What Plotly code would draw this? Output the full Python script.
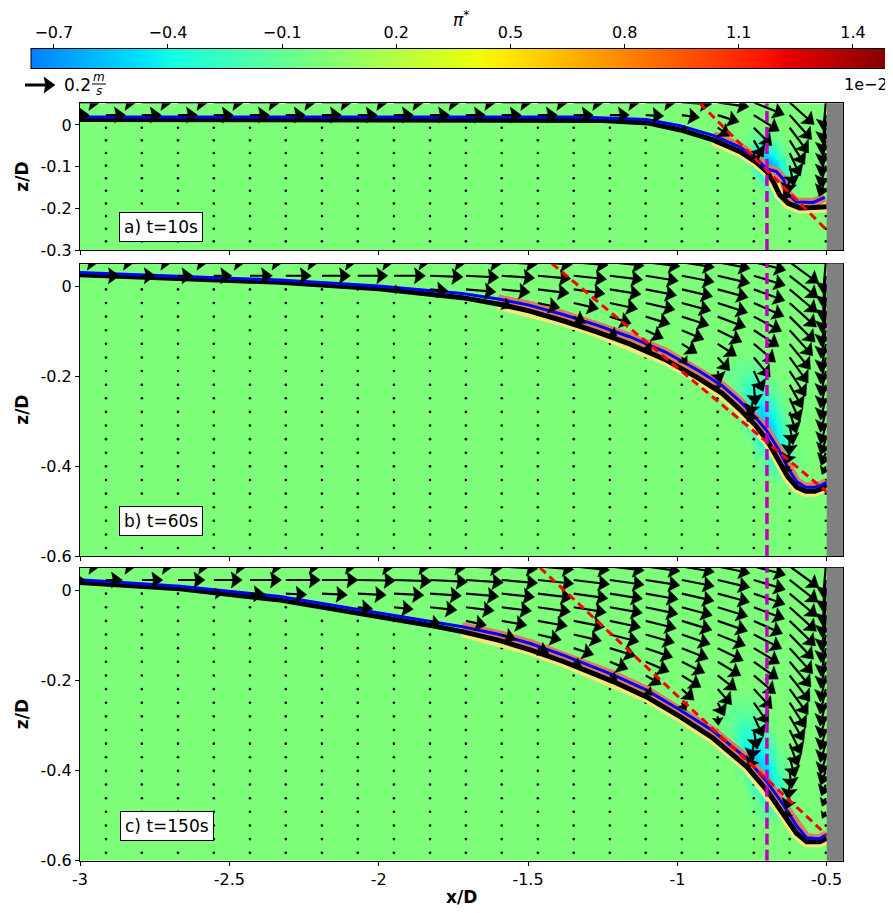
import math
import plotly.graph_objects as go

# ------------------------------------------------------------------ data
X_COLS = [-3.034, -2.913, -2.793, -2.672, -2.552, -2.431, -2.311, -2.190, -2.070, -1.949,
          -1.828, -1.708, -1.588, -1.467, -1.347, -1.226, -1.106, -0.985, -0.865, -0.744,
          -0.624, -0.503]
Z_ROWS = [0.054, 0.0237, -0.0066, -0.0369, -0.0672, -0.0975, -0.1278, -0.1581, -0.1884,
          -0.2187, -0.2490, -0.2793, -0.3096, -0.3399, -0.3702, -0.4005, -0.4308, -0.4611,
          -0.4914, -0.5217, -0.5520, -0.5823]

# velocity per column (m/s) and direction (deg), from the top row down to the bed
SPD_A = [
    [0.20, 0.13], [0.20, 0.13], [0.20, 0.13], [0.20, 0.13], [0.20, 0.13], [0.20, 0.13],
    [0.20, 0.13], [0.20, 0.13], [0.20, 0.13], [0.20, 0.13], [0.20, 0.13], [0.20, 0.13],
    [0.20, 0.13], [0.20, 0.13], [0.20, 0.13], [0.20, 0.13],
    [0.20, 0.12],
    [0.20, 0.12, 0.04],
    [0.21, 0.15, 0.10, 0.04],
    [0.22, 0.20, 0.17, 0.13, 0.08],
    [0.22, 0.22, 0.21, 0.19, 0.17, 0.14, 0.11, 0.07],
    [0.19, 0.19, 0.18, 0.17, 0.16, 0.15, 0.13],
]
ANG_A = [
    [0, 0], [0, 0], [0, 0], [0, 0], [0, 0], [0, 0], [0, 0], [0, 0], [0, 0], [0, 0],
    [0, 0], [0, 0], [0, 0], [0, 0], [0, 0], [0, 0],
    [0, -3],
    [-3, -8, -30],
    [-8, -18, -35, -60],
    [-22, -32, -45, -60, -80],
    [-42, -48, -53, -58, -65, -78, -100, -130],
    [-95, -97, -99, -100, -102, -105, -110],
]

SPD_B = [
    [0.19, 0.08], [0.19, 0.09], [0.20, 0.09], [0.20, 0.10], [0.21, 0.12], [0.22, 0.15],
    [0.22, 0.17], [0.23, 0.19], [0.24, 0.20],
    [0.24, 0.21, 0.05],
    [0.24, 0.22, 0.12],
    [0.24, 0.22, 0.20],
    [0.24, 0.22, 0.19, 0.07],
    [0.23, 0.22, 0.21, 0.15],
    [0.23, 0.22, 0.21, 0.17, 0.09],
    [0.23, 0.22, 0.21, 0.19, 0.15, 0.06],
    [0.23, 0.22, 0.21, 0.20, 0.17, 0.13, 0.06],
    [0.22, 0.22, 0.21, 0.20, 0.19, 0.16, 0.12, 0.06],
    [0.22, 0.22, 0.21, 0.21, 0.20, 0.18, 0.15, 0.12, 0.08, 0.04],
    [0.22, 0.22, 0.22, 0.22, 0.21, 0.20, 0.19, 0.17, 0.15, 0.14, 0.12, 0.08],
    [0.24, 0.24, 0.24, 0.24, 0.24, 0.23, 0.22, 0.21, 0.20, 0.18, 0.17, 0.15, 0.13, 0.11, 0.08, 0.05],
    [0.21, 0.21, 0.21, 0.20, 0.20, 0.19, 0.19, 0.18, 0.17, 0.16, 0.15, 0.14, 0.13, 0.11, 0.09, 0.06],
]
ANG_B = [
    [0, 0], [0, 0], [0, 0], [0, 0], [0, 0], [0, 0], [0, 0], [0, 0], [0, 0],
    [0, 0, 0],
    [-1, -2, -5],
    [-2, -3, -5],
    [-3, -4, -6, -25],
    [-4, -5, -7, -12],
    [-5, -6, -8, -13, -30],
    [-6, -7, -9, -12, -18, -40],
    [-7, -9, -11, -13, -17, -25, -50],
    [-9, -11, -13, -15, -18, -23, -32, -55],
    [-11, -13, -15, -18, -21, -26, -33, -48, -75, -100],
    [-14, -17, -20, -24, -28, -33, -40, -50, -65, -85, -105, -125],
    [-36, -38, -40, -42, -45, -48, -51, -54, -57, -61, -66, -72, -80, -92, -110, -130],
    [-95, -96, -97, -98, -99, -100, -100, -101, -102, -103, -104, -105, -106, -108, -110, -115],
]

SPD_C = [
    [0.20, 0.10], [0.20, 0.11], [0.21, 0.14], [0.21, 0.18],
    [0.22, 0.19, 0.06], [0.22, 0.21, 0.10], [0.23, 0.23, 0.14], [0.23, 0.24, 0.17],
    [0.24, 0.25, 0.19, 0.10], [0.24, 0.25, 0.20, 0.13],
    [0.24, 0.25, 0.21, 0.18, 0.07], [0.24, 0.25, 0.22, 0.19, 0.14],
    [0.24, 0.24, 0.22, 0.20, 0.17, 0.10],
    [0.24, 0.24, 0.23, 0.22, 0.20, 0.16, 0.08],
    [0.24, 0.24, 0.23, 0.22, 0.21, 0.19, 0.14, 0.06],
    [0.23, 0.23, 0.22, 0.22, 0.21, 0.20, 0.18, 0.13, 0.06],
    [0.23, 0.23, 0.22, 0.22, 0.21, 0.20, 0.19, 0.17, 0.12, 0.06],
    [0.22, 0.22, 0.22, 0.21, 0.21, 0.20, 0.19, 0.17, 0.15, 0.11, 0.06],
    [0.22, 0.22, 0.22, 0.21, 0.21, 0.20, 0.19, 0.18, 0.16, 0.14, 0.10, 0.06],
    [0.22, 0.22, 0.22, 0.22, 0.21, 0.21, 0.20, 0.20, 0.19, 0.18, 0.17, 0.15, 0.13, 0.11, 0.08],
    [0.24, 0.24, 0.24, 0.24, 0.24, 0.23, 0.23, 0.22, 0.22, 0.21, 0.20, 0.19, 0.18, 0.16, 0.14,
     0.12, 0.10, 0.08, 0.05],
    [0.21, 0.21, 0.21, 0.20, 0.20, 0.19, 0.19, 0.18, 0.18, 0.17, 0.16, 0.15, 0.14, 0.13, 0.12,
     0.10, 0.08, 0.06, 0.05],
]
ANG_C = [
    [0, 0], [0, 0], [0, 0], [0, 0],
    [0, 0, 0], [0, 0, -2], [0, 0, -3], [0, 0, -3],
    [-1, -1, -3, -6], [-1, -2, -3, -6],
    [-2, -3, -4, -6, -15], [-3, -4, -5, -7, -12],
    [-4, -5, -6, -7, -10, -20],
    [-5, -6, -7, -8, -10, -13, -25],
    [-6, -7, -8, -9, -11, -13, -18, -30],
    [-7, -8, -9, -10, -12, -14, -17, -22, -35],
    [-8, -9, -10, -12, -14, -16, -19, -23, -30, -45],
    [-10, -11, -13, -15, -17, -19, -22, -26, -32, -42, -60],
    [-12, -13, -15, -17, -19, -22, -26, -31, -38, -48, -62, -85],
    [-15, -17, -19, -21, -24, -27, -31, -35, -40, -47, -55, -65, -80, -100, -120],
    [-36, -38, -40, -42, -44, -46, -48, -50, -52, -54, -57, -60, -64, -69, -75, -84, -96, -110, -125],
    [-95, -96, -97, -98, -99, -100, -100, -101, -102, -103, -104, -105, -106, -107, -108, -110,
     -112, -115, -120],
]

# bed profiles (black) and second interface (blue)
BED_A_X = [-3.0, -1.40, -1.25, -1.10, -0.99, -0.88, -0.79, -0.735, -0.70, -0.679, -0.657, -0.629, -0.59, -0.545, -0.50]
BED_A_Z = [0.013, 0.013, 0.011, 0.005, -0.012, -0.036, -0.064, -0.090, -0.112, -0.136, -0.168, -0.188, -0.199, -0.198, -0.196]
BLUE_A_X = [-3.0, -1.40, -1.326, -1.103, -0.991, -0.88, -0.79, -0.735, -0.701, -0.668, -0.645, -0.629, -0.601, -0.545, -0.506]
BLUE_A_Z = [0.019, 0.019, 0.019, 0.013, -0.002, -0.025, -0.053, -0.081, -0.105, -0.112, -0.130, -0.166, -0.185, -0.186, -0.174]

BED_B_X = [-3.0, -2.665, -2.33, -2.0, -1.82, -1.72, -1.60, -1.50, -1.38, -1.27, -1.16, -1.04, -0.93,
           -0.85, -0.79, -0.74, -0.70, -0.66, -0.63, -0.60, -0.57, -0.54, -0.52, -0.50]
BED_B_Z = [0.026, 0.017, 0.009, -0.005, -0.017, -0.025, -0.039, -0.054, -0.077, -0.101, -0.128, -0.163,
           -0.204, -0.238, -0.274, -0.308, -0.342, -0.388, -0.424, -0.447, -0.456, -0.456, -0.451, -0.442]
BLUE_B_Z = [0.031, 0.022, 0.014, 0.001, -0.010, -0.016, -0.028, -0.041, -0.063, -0.086, -0.112, -0.146,
            -0.187, -0.221, -0.256, -0.290, -0.322, -0.364, -0.404, -0.435, -0.447, -0.447, -0.443, -0.436]

BED_C_X = [-3.0, -2.665, -2.33, -2.0, -1.82, -1.72, -1.60, -1.49, -1.38, -1.27, -1.215, -1.103, -0.991,
           -0.88, -0.768, -0.701, -0.646, -0.601, -0.567, -0.523, -0.50]
BED_C_Z = [0.018, 0.004, -0.021, -0.057, -0.078, -0.091, -0.110, -0.132, -0.158, -0.187, -0.202, -0.236,
           -0.280, -0.328, -0.391, -0.443, -0.495, -0.539, -0.558, -0.558, -0.550]
BLUE_C_Z = [0.024, 0.010, -0.013, -0.049, -0.068, -0.080, -0.097, -0.118, -0.144, -0.172, -0.187, -0.221,
            -0.265, -0.312, -0.373, -0.424, -0.475, -0.522, -0.549, -0.551, -0.541]

# pressure field pi* (x 1e-2), coarse samples above the scour slope (zero far field)
FX_A = [-3.1, -0.80, -0.76, -0.73, -0.70, -0.67, -0.64, -0.61, -0.57, -0.40]
FZ_A = [0.10, 0.0, -0.03, -0.06, -0.09, -0.11, -0.13, -0.15, -0.19, -0.35]
FV_A = [[0, 0, 0, 0, 0, 0, 0, 0, 0, 0],
        [0, 0, 0, 0, 0, 0, 0, 0, 0, 0],
        [0, 0, -0.05, -0.10, -0.10, -0.05, 0, 0, 0, 0],
        [0, 0, -0.10, -0.35, -0.40, -0.25, -0.05, 0, 0, 0],
        [0, 0, -0.05, -0.45, -0.65, -0.50, -0.20, 0, 0, 0],
        [0, 0, 0, -0.30, -0.70, -0.60, -0.30, -0.05, 0, 0],
        [0, 0, 0, -0.10, -0.45, -0.55, -0.35, -0.10, 0, 0],
        [0, 0, 0, 0, -0.15, -0.30, -0.20, -0.05, 0, 0],
        [0, 0, 0, 0, 0, 0, 0, 0, 0, 0],
        [0, 0, 0, 0, 0, 0, 0, 0, 0, 0]]
FX_B = [-3.1, -0.86, -0.80, -0.76, -0.72, -0.68, -0.64, -0.60, -0.55, -0.40]
FZ_B = [0.10, -0.14, -0.19, -0.23, -0.27, -0.31, -0.35, -0.39, -0.44, -0.65]
FV_B = [[0, 0, 0, 0, 0, 0, 0, 0, 0, 0],
        [0, 0, 0, 0, 0, 0, 0, 0, 0, 0],
        [0, 0, -0.10, -0.12, -0.08, 0, 0, 0, 0, 0],
        [0, 0, -0.10, -0.30, -0.25, -0.10, 0, 0, 0, 0],
        [0, 0, -0.05, -0.35, -0.50, -0.30, -0.05, 0, 0, 0],
        [0, 0, 0, -0.15, -0.55, -0.50, -0.15, 0, 0, 0],
        [0, 0, 0, 0, -0.30, -0.55, -0.30, 0, 0, 0],
        [0, 0, 0, 0, -0.05, -0.30, -0.25, -0.05, 0, 0],
        [0, 0, 0, 0, 0, 0, 0, 0, 0, 0],
        [0, 0, 0, 0, 0, 0, 0, 0, 0, 0]]
FX_C = [-3.1, -0.88, -0.82, -0.78, -0.74, -0.70, -0.66, -0.62, -0.57, -0.40]
FZ_C = [0.10, -0.22, -0.27, -0.31, -0.35, -0.39, -0.43, -0.47, -0.52, -0.65]
FV_C = [[0, 0, 0, 0, 0, 0, 0, 0, 0, 0],
        [0, 0, 0, 0, 0, 0, 0, 0, 0, 0],
        [0, 0, -0.10, -0.12, -0.08, 0, 0, 0, 0, 0],
        [0, 0, -0.10, -0.30, -0.25, -0.10, 0, 0, 0, 0],
        [0, 0, -0.05, -0.35, -0.50, -0.30, -0.05, 0, 0, 0],
        [0, 0, 0, -0.15, -0.55, -0.50, -0.15, 0, 0, 0],
        [0, 0, 0, 0, -0.30, -0.55, -0.30, 0, 0, 0],
        [0, 0, 0, 0, -0.05, -0.30, -0.25, -0.05, 0, 0],
        [0, 0, 0, 0, 0, 0, 0, 0, 0, 0],
        [0, 0, 0, 0, 0, 0, 0, 0, 0, 0]]

# reference lines
RED_A_X, RED_A_Z = [-0.925, -0.50], [0.052, -0.252]
RED_B_X, RED_B_Z = [-1.42, -0.50], [0.051, -0.457]
RED_C_X, RED_C_Z = [-1.46, -0.50], [0.051, -0.543]
MAGENTA_X = -0.70
PILE_X = -0.50

LABELS = ["a) t=10s", "b) t=60s", "c) t=150s"]
LABEL_X = [-2.730, -2.728, -2.710]
LABEL_Z = [-0.245, -0.522, -0.524]

X_TICKS = [-3, -2.5, -2, -1.5, -1, -0.5]
X_TICK_TEXT = ["-3", "-2.5", "-2", "-1.5", "-1", "-0.5"]
Z_TICKS_A = [0, -0.1, -0.2, -0.3]
Z_TICK_TEXT_A = ["0", "-0.1", "-0.2", "-0.3"]
Z_TICKS_BC = [0, -0.2, -0.4, -0.6]
Z_TICK_TEXT_BC = ["0", "-0.2", "-0.4", "-0.6"]
CB_TICKS = [-0.7, -0.4, -0.1, 0.2, 0.5, 0.8, 1.1, 1.4]
CB_TICK_TEXT = ["\u22120.7", "\u22120.4", "\u22120.1", "0.2", "0.5", "0.8", "1.1", "1.4"]
CB_RANGE = [-0.76, 1.5]
KEY_SPEED = 0.2

# ------------------------------------------------------------------ layout constants
W, H = 893, 913
OFF = 8  # page body margin: screen px = figure px + OFF


def PX(sx):   # screen x pixel -> paper x
    return (sx - OFF) / W


def PY(sy):   # screen y pixel -> paper y
    return 1 - (sy - OFF) / H


FONT = "DejaVu Sans"
PX_PER_MS = 150.0
HEAD_LEN, HEAD_HW, SHAFT_W = 11.0, 8.0, 2.2

X_RANGE = [-3.0, -0.4444]
X_DOM = [PX(80), PX(843.3)]
Z_RANGE_A = [-0.3, 0.052]
Z_RANGE_BC = [-0.6, 0.051]
Y_DOM = [[PY(250), PY(103.3)],
         [PY(556), PY(263.5)],
         [PY(860.7), PY(567.7)]]

JET = [[0.0, "rgb(0,128,255)"], [0.12, "rgb(0,219,255)"], [0.1333, "rgb(0,230,247)"],
       [0.1667, "rgb(21,255,226)"], [0.3333, "rgb(123,255,123)"], [0.52, "rgb(239,255,8)"],
       [0.5333, "rgb(247,245,0)"], [0.5467, "rgb(255,236,0)"], [0.8533, "rgb(255,19,0)"],
       [0.88, "rgb(232,0,0)"], [1.0, "rgb(128,0,0)"]]


def arrows(xs, zs, spd, ang, sx, sz, zmin):
    shx, shy, hx, hy, dx, dy = [], [], [], [], [], []
    for ci, x0 in enumerate(xs):
        sp, an = spd[ci], ang[ci]
        n = min(len(sp), len(an))
        for rj, z0 in enumerate(zs):
            if z0 < zmin - 0.01:
                break
            if rj >= n:
                dx.append(x0)
                dy.append(z0)
                continue
            L = sp[rj] * PX_PER_MS
            a = math.radians(an[rj])
            ux, uz = math.cos(a), math.sin(a)
            nx, nz = -uz, ux
            hl, hw = HEAD_LEN, HEAD_HW
            if L < hl * 1.2:
                k = L / (hl * 1.2)
                hl, hw = hl * k, hw * k

            def P(d, m):
                return (x0 + (d * ux + m * nx) / sx, z0 + (d * uz + m * nz) / sz)
            t = P(L, 0)
            b1 = P(L - hl, hw)
            b2 = P(L - hl, -hw)
            nt = P(L - 0.85 * hl, 0)
            s0 = P(0, 0)
            shx += [s0[0], nt[0], None]
            shy += [s0[1], nt[1], None]
            hx += [t[0], b1[0], nt[0], b2[0], t[0], None]
            hy += [t[1], b1[1], nt[1], b2[1], t[1], None]
    return shx, shy, hx, hy, dx, dy


fig = go.Figure()

panels = [
    dict(xa="x", ya="y", zr=Z_RANGE_A, yd=Y_DOM[0], spd=SPD_A, ang=ANG_A,
         bx=BED_A_X, bz=BED_A_Z, ux=BLUE_A_X, uz=BLUE_A_Z, band=-0.95,
         fx=FX_A, fz=FZ_A, fv=FV_A, rx=RED_A_X, rz=RED_A_Z),
    dict(xa="x2", ya="y2", zr=Z_RANGE_BC, yd=Y_DOM[1], spd=SPD_B, ang=ANG_B,
         bx=BED_B_X, bz=BED_B_Z, ux=BED_B_X, uz=BLUE_B_Z, band=-1.7,
         fx=FX_B, fz=FZ_B, fv=FV_B, rx=RED_B_X, rz=RED_B_Z),
    dict(xa="x3", ya="y3", zr=Z_RANGE_BC, yd=Y_DOM[2], spd=SPD_C, ang=ANG_C,
         bx=BED_C_X, bz=BED_C_Z, ux=BED_C_X, uz=BLUE_C_Z, band=-1.8,
         fx=FX_C, fz=FZ_C, fv=FV_C, rx=RED_C_X, rz=RED_C_Z),
]

sx = W * (X_DOM[1] - X_DOM[0]) / (X_RANGE[1] - X_RANGE[0])

for p in panels:
    sz = H * (p["yd"][1] - p["yd"][0]) / (p["zr"][1] - p["zr"][0])
    kw = dict(xaxis=p["xa"], yaxis=p["ya"], hoverinfo="skip", showlegend=False)
    fig.add_trace(go.Heatmap(x=p["fx"], y=p["fz"], z=p["fv"], zsmooth="best",
                             coloraxis="coloraxis", **kw))
    shx, shy, hx, hy, dx, dy = arrows(X_COLS, Z_ROWS, p["spd"], p["ang"], sx, sz, p["zr"][0])
    fig.add_trace(go.Scatter(x=dx, y=dy, mode="markers",
                             marker=dict(size=2.6, color="black"), **kw))
    # pressure band along the slope
    yb = [(x, z) for x, z in zip(p["bx"], p["bz"]) if x >= p["band"]]
    ub = [(x, z) for x, z in zip(p["ux"], p["uz"]) if x >= p["band"]]
    fig.add_trace(go.Scatter(x=[v[0] for v in yb], y=[v[1] for v in yb], mode="lines",
                             line=dict(color="rgb(245,232,120)", width=11), **kw))
    fig.add_trace(go.Scatter(x=[v[0] for v in ub], y=[v[1] for v in ub], mode="lines",
                             line=dict(color="rgb(225,125,85)", width=9), **kw))
    fig.add_trace(go.Scatter(x=p["bx"], y=p["bz"], mode="lines",
                             line=dict(color="black", width=5), **kw))
    fig.add_trace(go.Scatter(x=p["ux"], y=p["uz"], mode="lines",
                             line=dict(color="rgb(0,0,255)", width=3), **kw))
    fig.add_trace(go.Scatter(x=shx, y=shy, mode="lines",
                             line=dict(color="black", width=SHAFT_W), **kw))
    fig.add_trace(go.Scatter(x=hx, y=hy, mode="lines", fill="toself", fillcolor="black",
                             line=dict(color="black", width=0.5), **kw))
    fig.add_trace(go.Scatter(x=p["rx"], y=p["rz"], mode="lines",
                             line=dict(color="rgb(255,0,0)", width=3, dash="8px,5px"), **kw))
    fig.add_trace(go.Scatter(x=[MAGENTA_X, MAGENTA_X], y=[p["zr"][0], p["zr"][1]], mode="lines",
                             line=dict(color="rgb(191,0,191)", width=3.5, dash="11px,5px"), **kw))
    fig.add_shape(type="rect", xref=p["xa"], yref=p["ya"] + " domain", x0=PILE_X, x1=X_RANGE[1],
                  y0=0, y1=1, fillcolor="rgb(128,128,128)", line=dict(width=0), layer="above")

# colorbar tick axis (invisible carrier trace)
fig.add_trace(go.Scatter(x=CB_TICKS, y=[0.5] * len(CB_TICKS), mode="markers",
                         marker=dict(opacity=0), xaxis="x4", yaxis="y4",
                         hoverinfo="skip", showlegend=False))

# quiver key, drawn in a screen-pixel overlay
kshx, kshy, khx, khy, _, _ = arrows([25.0], [85.0], [[KEY_SPEED]], [[0]], 1.0, -1.0, -1e9)
fig.add_trace(go.Scatter(x=kshx, y=kshy, mode="lines", line=dict(color="black", width=3),
                         xaxis="x5", yaxis="y5", hoverinfo="skip", showlegend=False))
fig.add_trace(go.Scatter(x=khx, y=khy, mode="lines", fill="toself", fillcolor="black",
                         line=dict(color="black", width=0.5),
                         xaxis="x5", yaxis="y5", hoverinfo="skip", showlegend=False))

tickfont = dict(family=FONT, size=16, color="black")
axis_common = dict(showgrid=False, zeroline=False, showline=True, linecolor="black",
                   linewidth=1, mirror=True, ticks="outside", ticklen=4, tickwidth=1,
                   tickcolor="black", tickfont=tickfont)

layout = dict(
    width=W, height=H, margin=dict(l=0, r=0, t=0, b=0, autoexpand=False),
    paper_bgcolor="white", plot_bgcolor="rgba(0,0,0,0)", showlegend=False, hovermode=False,
    font=dict(family=FONT, size=16, color="black"),
    coloraxis=dict(cmin=CB_RANGE[0], cmax=CB_RANGE[1], colorscale=JET,
                   colorbar=dict(orientation="h", x=PX(461), xanchor="center",
                                 y=PY(59.3), yanchor="middle", len=860 / W,
                                 lenmode="fraction", thickness=20, thicknessmode="pixels",
                                 outlinewidth=1, outlinecolor="black", showticklabels=False,
                                 ticks="", xpad=0, ypad=0)),
)
for i, p in enumerate(panels):
    sfx = "" if i == 0 else str(i + 1)
    layout["xaxis" + sfx] = dict(domain=X_DOM, range=X_RANGE, anchor="y" + sfx,
                                 tickvals=X_TICKS, ticktext=X_TICK_TEXT,
                                 showticklabels=(i == 2), **axis_common)
    zt, ztt = (Z_TICKS_A, Z_TICK_TEXT_A) if i == 0 else (Z_TICKS_BC, Z_TICK_TEXT_BC)
    layout["yaxis" + sfx] = dict(domain=p["yd"], range=p["zr"], anchor="x" + sfx,
                                 tickvals=zt, ticktext=ztt, **axis_common)

layout["xaxis4"] = dict(domain=[PX(31), PX(891)], range=CB_RANGE, anchor="y4", side="top",
                        tickvals=CB_TICKS, ticktext=CB_TICK_TEXT, ticks="outside", ticklen=4,
                        tickcolor="black", showline=False, showgrid=False, zeroline=False,
                        tickfont=tickfont,
                        title=dict(text="<i>\u03c0</i><sup>*</sup>",
                                   font=dict(family=FONT, size=17, color="black"), standoff=4))
layout["yaxis4"] = dict(domain=[PY(69.3), PY(49.3)], range=[0, 1], visible=False, anchor="x4")
layout["xaxis5"] = dict(domain=[PX(8), PX(142)], range=[8, 142], visible=False, anchor="y5")
layout["yaxis5"] = dict(domain=[PY(103), PY(70)], range=[103, 70], visible=False, anchor="x5")

annotations = []
for i, p in enumerate(panels):
    annotations.append(dict(xref=p["xa"], yref=p["ya"], x=LABEL_X[i], y=LABEL_Z[i],
                            text=LABELS[i], showarrow=False, xanchor="center", yanchor="middle",
                            font=dict(family=FONT, size=17, color="black"),
                            bgcolor="white", bordercolor="black", borderwidth=1, borderpad=4))
    annotations.append(dict(xref="paper", yref="paper", x=PX(22),
                            y=(p["yd"][0] + p["yd"][1]) / 2, text="<b>z/D</b>",
                            textangle=-90, showarrow=False, xanchor="center", yanchor="middle",
                            font=dict(family=FONT, size=17, color="black")))
annotations.append(dict(xref="paper", yref="paper", x=PX(461.5), y=PY(897),
                        text="<b>x/D</b>", showarrow=False, xanchor="center", yanchor="middle",
                        font=dict(family=FONT, size=17, color="black")))
annotations.append(dict(xref="paper", yref="paper", x=PX(890), y=PY(85), text="1e\u22122",
                        showarrow=False, xanchor="right", yanchor="middle",
                        font=dict(family=FONT, size=16, color="black")))
annotations.append(dict(xref="paper", yref="paper", x=PX(62), y=PY(85), text="0.2",
                        showarrow=False, xanchor="left", yanchor="middle",
                        font=dict(family=FONT, size=17, color="black")))
annotations.append(dict(xref="paper", yref="paper", x=PX(99), y=PY(77), text="<i>m</i>",
                        showarrow=False, xanchor="center", yanchor="middle",
                        font=dict(family=FONT, size=12, color="black")))
annotations.append(dict(xref="paper", yref="paper", x=PX(99), y=PY(91), text="<i>s</i>",
                        showarrow=False, xanchor="center", yanchor="middle",
                        font=dict(family=FONT, size=12, color="black")))
layout["annotations"] = annotations
layout["shapes"] = list(fig.layout.shapes) + [
    dict(type="line", xref="paper", yref="paper", x0=PX(92), x1=PX(106),
         y0=PY(84), y1=PY(84), line=dict(color="black", width=1))]

fig.update_layout(**layout)
fig.write_html("out.html")
